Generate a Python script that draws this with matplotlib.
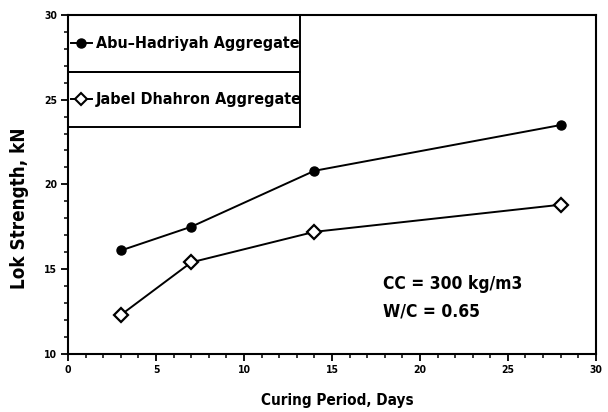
import matplotlib
matplotlib.use("Agg")
import matplotlib.pyplot as plt
from matplotlib.patches import Rectangle
from matplotlib.ticker import MultipleLocator

plt.rcParams['font.family'] = ['DejaVu Sans']
plt.rcParams['font.stretch'] = 'condensed'

# curing period (days) and lok strength (kN)
days = [3, 7, 14, 28]
abu_hadriyah = [16.1, 17.5, 20.8, 23.5]
jabel_dhahron = [12.3, 15.4, 17.2, 18.8]
series_names = ['Abu\u2013Hadriyah Aggregate', 'Jabel Dhahron Aggregate']

fig = plt.figure(figsize=(6.08, 4.12), dpi=100)
ax = fig.add_axes([0.112, 0.141, 0.868, 0.823])

ax.plot(days, abu_hadriyah, color='black', lw=1.4, marker='o', ms=6.5,
        mfc='black', mec='black', zorder=3)
ax.plot(days, jabel_dhahron, color='black', lw=1.4, marker='D', ms=7,
        mfc='white', mec='black', mew=1.6, zorder=3)

ax.set_xlim(0, 30)
ax.set_ylim(10, 30)
ax.xaxis.set_major_locator(MultipleLocator(5))
ax.xaxis.set_minor_locator(MultipleLocator(1))
ax.yaxis.set_major_locator(MultipleLocator(5))
ax.yaxis.set_minor_locator(MultipleLocator(1))
ax.tick_params(which='major', length=5, width=1.3, direction='out', pad=3,
               labelsize=7.5)
ax.tick_params(which='minor', length=3, width=1.1, direction='out')
for lab in ax.get_xticklabels() + ax.get_yticklabels():
    lab.set_fontweight('bold')
for sp in ax.spines.values():
    sp.set_linewidth(1.5)

ax.set_xlabel('Curing Period, Days', fontsize=11, fontweight='bold')
ax.xaxis.set_label_coords(0.51, -0.115)
ax.set_ylabel('Lok Strength, kN', fontsize=13.5, fontweight='bold')
ax.yaxis.set_label_coords(-0.075, 0.43)

# note on mix design
ax.text(17.9, 14.1, 'CC = 300 kg/m3', fontsize=12.5, fontweight='bold',
        va='center', ha='left')
ax.text(17.9, 12.5, 'W/C = 0.65', fontsize=12.5, fontweight='bold',
        va='center', ha='left')

# boxed key in the upper-left corner, one row per series
box_w = 0.44
rows = [(0.832, 0.168), (0.67, 0.162)]
styles = [dict(marker='o', mfc='black', ms=6.5),
          dict(marker='D', mfc='white', ms=6.5, mew=1.5)]
for (y0, h), name, st in zip(rows, series_names, styles):
    ax.add_patch(Rectangle((0, y0), box_w, h, transform=ax.transAxes,
                           fill=False, lw=1.4, ec='black', zorder=4))
    yc = y0 + h / 2
    ax.plot([0.005, 0.045], [yc, yc], transform=ax.transAxes, color='black',
            lw=1.4, zorder=5)
    ax.plot([0.025], [yc], transform=ax.transAxes, color='black',
            mec='black', zorder=5, **st)
    ax.text(0.052, yc, name, transform=ax.transAxes, fontsize=11.5,
            fontweight='bold', va='center', ha='left', zorder=5)

fig.savefig('out.png', dpi=100)
